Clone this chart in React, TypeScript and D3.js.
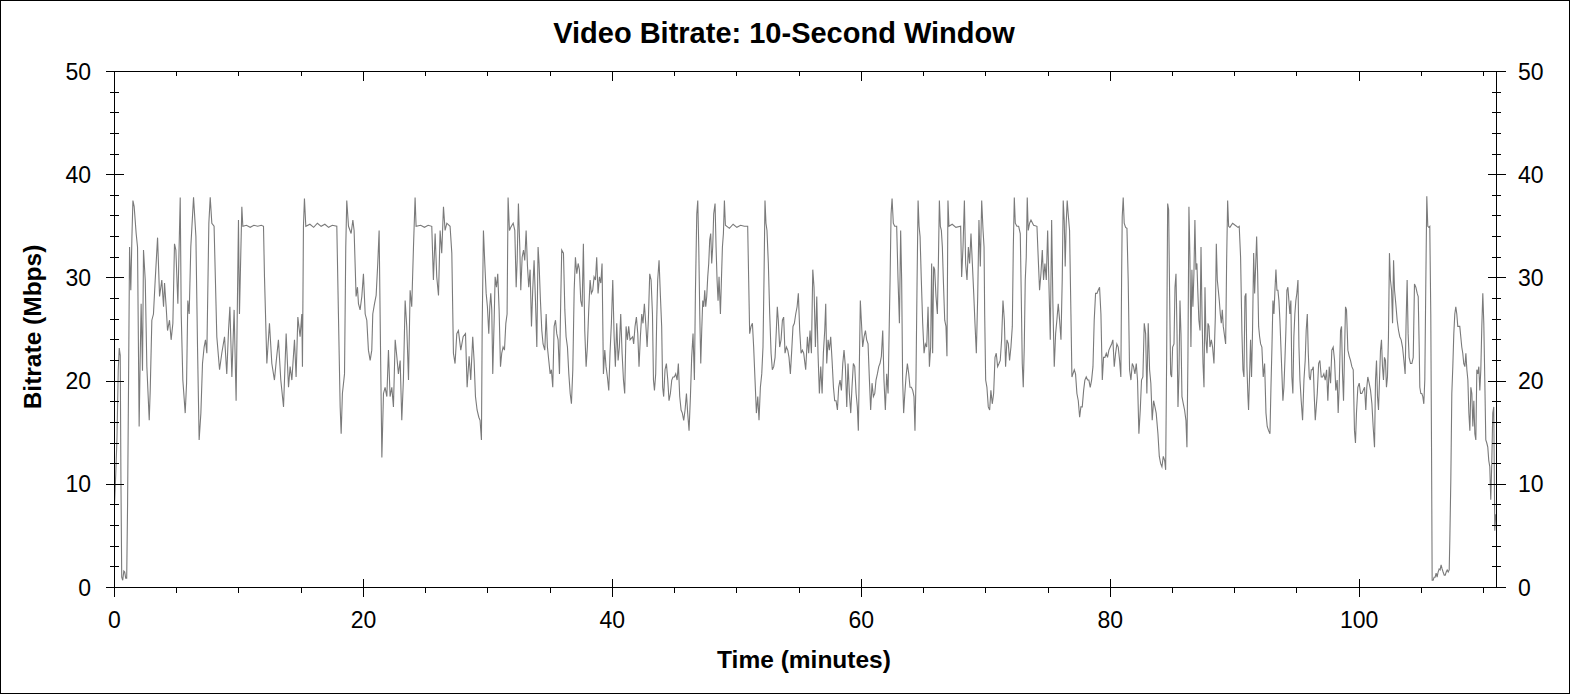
import * as d3 from "d3";

// tick labels
const xTicks = [0, 20, 40, 60, 80, 100];
const yTicks = [0, 10, 20, 30, 40, 50];
const xMax = 111.03;

// [minutes, Mbps], split by time range
const bitrate0to14: [number, number][] = [
  [0, 8.0], [0.1, 11], [0.2, 14.5], [0.3, 21], [0.38, 23.2], [0.46, 22.5], [0.52, 10], [0.58, 1.0],
  [0.66, 0.7], [0.75, 1.6], [0.82, 1.5], [0.9, 0.9], [0.98, 0.9], [1.05, 8], [1.13, 20], [1.21, 33],
  [1.31, 28.8], [1.4, 34], [1.48, 37.5], [1.58, 36.9], [1.74, 34.3], [1.85, 33.0], [1.98, 15.6],
  [2.06, 22], [2.14, 27.5], [2.25, 21.0], [2.33, 32.7], [2.47, 29.8], [2.6, 21.4], [2.79, 16.2],
  [2.87, 19.1], [3.0, 25.9], [3.13, 26.5], [3.27, 29.8], [3.46, 33.9], [3.62, 28.2], [3.8, 29.8],
  [3.94, 27.2], [4.02, 29.5], [4.15, 27.2], [4.26, 24.9], [4.42, 25.9], [4.55, 24.0], [4.69, 25.6],
  [4.82, 33.3], [4.93, 32.7], [5.09, 27.5], [5.28, 37.8], [5.36, 26.5], [5.49, 20.1], [5.68, 16.9],
  [5.79, 19.8], [5.89, 27.8], [6.0, 26.5], [6.13, 33.0], [6.35, 37.8], [6.54, 34.0], [6.67, 23.3],
  [6.8, 14.3], [6.94, 16.9], [7.07, 21.7], [7.2, 23.3], [7.31, 24.0], [7.42, 22.7], [7.58, 35.3],
  [7.69, 37.8], [7.82, 35.3], [8.0, 35.0], [8.22, 24.3], [8.44, 21.1], [8.62, 22.7], [8.84, 24.3],
  [9.02, 20.7], [9.16, 24.9], [9.27, 27.2], [9.43, 20.4], [9.61, 26.9], [9.77, 18.1], [9.96, 35.6],
  [10.04, 26.5], [10.23, 36.9], [10.31, 35.0], [10.6, 35.1], [10.9, 34.9], [11.2, 35.1], [11.5, 35.0],
  [11.8, 35.1], [11.97, 35.0], [12.05, 30.1], [12.24, 21.7], [12.45, 25.6], [12.64, 21.7],
  [12.85, 20.1], [13.0, 22], [13.17, 24.0], [13.36, 20.1], [13.58, 17.5], [13.79, 24.6], [13.98, 19.4],
];

const bitrate14to28: [number, number][] = [
  [14.11, 21.4], [14.25, 20.1], [14.46, 24.0], [14.59, 20.4], [14.73, 26.2], [14.91, 24.3],
  [15.05, 26.5], [15.1, 21.4], [15.18, 35.0], [15.26, 37.7], [15.37, 35.0], [15.7, 35.2], [16.0, 34.9],
  [16.3, 35.3], [16.6, 35.0], [16.9, 35.2], [17.2, 34.9], [17.5, 35.1], [17.86, 35.0], [17.99, 26.5],
  [18.13, 17.5], [18.21, 14.9], [18.31, 18.8], [18.48, 20.7], [18.58, 33.0], [18.66, 37.5],
  [18.8, 35.0], [19.01, 34.3], [19.15, 35.6], [19.25, 34.6], [19.33, 31.4], [19.41, 28.2],
  [19.52, 29.1], [19.6, 27.5], [19.73, 26.9], [19.87, 28.2], [20.0, 30.4], [20.14, 26.5],
  [20.27, 25.9], [20.4, 23.0], [20.54, 22.0], [20.67, 23.0], [20.75, 26.5], [20.89, 27.5],
  [21.02, 28.3], [21.15, 31.4], [21.26, 34.6], [21.37, 23.3], [21.48, 12.6], [21.61, 18.8],
  [21.74, 19.4], [21.88, 18.5], [22.01, 23.0], [22.14, 18.5], [22.28, 19.4], [22.41, 17.5],
  [22.55, 24.0], [22.68, 22.4], [22.81, 20.7], [22.95, 22.0], [23.08, 16.2], [23.21, 20.1],
  [23.35, 27.8], [23.48, 25.3], [23.62, 20.1], [23.75, 28.8], [23.88, 27.2], [24.02, 33.0],
  [24.15, 37.8], [24.23, 35.0], [24.6, 35.1], [24.9, 34.9], [25.2, 35.1], [25.49, 35.0], [25.62, 29.8],
  [25.76, 34.3], [25.89, 30.1], [26.03, 28.3], [26.16, 34.6], [26.29, 32.4], [26.43, 36.9],
  [26.56, 34.6], [26.7, 35.3], [26.96, 35.0], [27.1, 32.4], [27.23, 22.7], [27.36, 21.7],
  [27.5, 24.6], [27.63, 24.9], [27.82, 23.0],
];

const bitrate28to41: [number, number][] = [
  [28.01, 24.3], [28.2, 24.6], [28.33, 19.4], [28.49, 22.4], [28.62, 20.1], [28.78, 24.3], [28.89, 22.0],
  [29.0, 18.5], [29.13, 17.2], [29.27, 16.5], [29.37, 16.2], [29.48, 14.3], [29.54, 25.3], [29.64, 34.6],
  [29.75, 31.4], [29.86, 28.5], [29.96, 27.2], [30.07, 24.6], [30.15, 27.2], [30.23, 28.5], [30.31, 26.9],
  [30.39, 20.7], [30.5, 25.9], [30.58, 30.1], [30.69, 29.1], [30.79, 30.4], [30.9, 26.9], [31.01, 21.4],
  [31.11, 22.7], [31.22, 23.3], [31.33, 23.0], [31.44, 25.6], [31.54, 26.5], [31.62, 37.8], [31.73, 34.6],
  [31.84, 34.9], [32.03, 35.3], [32.16, 34.6], [32.27, 29.1], [32.35, 31.7], [32.45, 37.2], [32.56, 33.0],
  [32.64, 28.8], [32.75, 32.0], [32.86, 32.7], [32.96, 31.7], [33.07, 34.6], [33.18, 31.1], [33.28, 29.1],
  [33.39, 30.8], [33.5, 25.3], [33.6, 28.8], [33.71, 31.7], [33.82, 27.8], [33.93, 23.3], [34.03, 33.0],
  [34.11, 31.4], [34.22, 27.8], [34.33, 24.9], [34.43, 23.6], [34.57, 23.0], [34.68, 26.5], [34.78, 23.3],
  [34.89, 22.0], [35.0, 20.7], [35.1, 21.1], [35.21, 19.4], [35.32, 25.3], [35.43, 25.9], [35.53, 24.6],
  [35.64, 24.0], [35.75, 20.7], [35.85, 27.8], [35.93, 32.7], [36.07, 32.4], [36.18, 26.9], [36.28, 24.3],
  [36.39, 23.3], [36.5, 20.7], [36.61, 18.8], [36.71, 17.8], [36.82, 21.1], [36.93, 28.8], [37.03, 32.0],
  [37.14, 30.4], [37.25, 31.4], [37.35, 30.8], [37.46, 27.8], [37.57, 27.2], [37.67, 33.3], [37.78, 24.9],
  [37.89, 21.4], [37.99, 23.3], [38.1, 26.9], [38.21, 29.8], [38.31, 28.5], [38.42, 28.8], [38.53, 30.1],
  [38.64, 29.8], [38.74, 32.0], [38.85, 28.5], [38.96, 30.1], [39.07, 29.5], [39.17, 31.4], [39.28, 20.7],
  [39.39, 23.0], [39.49, 21.4], [39.6, 20.4], [39.71, 19.1], [39.81, 22.7], [39.92, 25.6], [40.03, 29.8],
  [40.14, 24.3], [40.24, 21.4], [40.35, 25.6], [40.46, 22.0], [40.56, 23.3], [40.67, 26.5], [40.78, 22.7],
  [40.89, 20.1], [40.99, 18.8], [41.1, 25.3], [41.21, 24.0], [41.31, 25.3], [41.42, 24.0],
];

const bitrate41to55: [number, number][] = [
  [41.63, 24.3], [41.71, 23.6], [41.82, 25.3], [41.93, 26.2], [42.04, 24.6], [42.14, 21.4], [42.25, 24.3],
  [42.36, 26.5], [42.46, 25.6], [42.57, 27.5], [42.68, 25.6], [42.79, 23.3], [42.89, 25.9], [43.0, 30.4],
  [43.11, 29.8], [43.22, 26.5], [43.3, 20.1], [43.38, 19.1], [43.48, 20.7], [43.56, 25.9], [43.64, 29.8],
  [43.75, 31.7], [43.86, 28.2], [43.96, 25.3], [44.04, 19.4], [44.12, 18.5], [44.23, 21.1], [44.34, 21.7],
  [44.45, 20.1], [44.55, 18.1], [44.66, 18.8], [44.77, 20.1], [44.87, 20.4], [44.98, 20.4], [45.09, 20.7],
  [45.2, 20.1], [45.3, 21.7], [45.41, 18.5], [45.52, 17.2], [45.62, 16.9], [45.73, 16.2], [45.84, 17.2],
  [45.95, 18.8], [46.05, 16.9], [46.16, 15.2], [46.27, 18.5], [46.37, 22.3], [46.48, 24.6], [46.59, 20.1],
  [46.67, 28.5], [46.78, 36.2], [46.86, 37.5], [46.94, 33.0], [47.02, 26.5], [47.1, 21.7], [47.18, 25.0],
  [47.26, 27.8], [47.34, 27.2], [47.42, 28.8], [47.5, 27.2], [47.58, 28.2], [47.66, 30.1], [47.74, 31.4],
  [47.82, 33.7], [47.9, 34.3], [47.98, 31.4], [48.06, 33.0], [48.14, 36.2], [48.25, 37.2], [48.33, 33.0],
  [48.41, 29.8], [48.49, 27.8], [48.57, 30.1], [48.68, 26.5], [48.76, 29.8], [48.84, 33.0], [48.92, 34.3],
  [49.0, 37.5], [49.08, 35.1], [49.4, 34.8], [49.7, 35.2], [50.0, 34.9], [50.3, 35.1], [50.6, 35.0],
  [50.87, 35.0], [50.95, 29.8], [51.03, 24.6], [51.14, 25.3], [51.25, 25.6], [51.35, 23.3], [51.46, 20.1],
  [51.57, 16.9], [51.68, 18.5], [51.78, 16.2], [51.89, 19.4], [52.0, 20.7], [52.1, 23.3], [52.18, 29.8],
  [52.26, 37.5], [52.34, 35.3], [52.42, 34.6], [52.53, 31.4], [52.64, 26.5], [52.75, 22.7], [52.85, 21.1],
  [52.96, 21.4], [53.07, 22.3], [53.17, 24.9], [53.25, 27.2], [53.33, 25.9], [53.44, 23.3], [53.55, 24.0],
  [53.66, 25.9], [53.76, 26.2], [53.87, 22.7], [53.98, 23.3], [54.09, 23.0], [54.19, 22.3], [54.3, 20.7],
  [54.41, 23.0], [54.51, 25.3], [54.62, 25.6], [54.73, 26.5], [54.84, 27.2], [54.94, 28.5], [55.05, 24.9],
  [55.16, 22.7], [55.26, 23.0], [55.37, 22.7],
];

const bitrate55to70: [number, number][] = [
  [55.53, 21.1], [55.67, 24.3], [55.77, 22.7], [55.88, 24.9], [55.99, 22.7], [56.1, 30.8], [56.2, 29.1],
  [56.31, 23.3], [56.42, 28.2], [56.52, 22.7], [56.63, 18.8], [56.74, 21.4], [56.85, 18.8], [56.95, 22.7],
  [57.06, 24.9], [57.14, 27.5], [57.22, 21.7], [57.33, 24.0], [57.43, 23.0], [57.54, 24.3], [57.65, 22.0],
  [57.76, 19.4], [57.86, 18.1], [57.97, 18.1], [58.08, 17.2], [58.18, 19.4], [58.29, 20.1], [58.4, 19.1],
  [58.51, 21.7], [58.61, 23.0], [58.72, 21.4], [58.83, 17.5], [58.93, 21.7], [59.04, 18.8], [59.15, 16.9],
  [59.25, 19.4], [59.36, 21.7], [59.47, 21.4], [59.58, 18.8], [59.68, 17.5], [59.76, 15.2], [59.84, 21.4],
  [59.92, 27.8], [60.0, 25.9], [60.11, 23.3], [60.22, 24.3], [60.33, 24.9], [60.43, 24.0], [60.54, 23.6],
  [60.65, 20.1], [60.75, 17.2], [60.86, 19.8], [60.97, 18.5], [61.08, 18.8], [61.18, 20.1], [61.29, 20.7],
  [61.4, 21.4], [61.5, 21.7], [61.61, 22.4], [61.72, 24.9], [61.82, 20.1], [61.93, 17.2], [62.04, 20.7],
  [62.15, 18.8], [62.25, 25.9], [62.31, 29.8], [62.39, 36.2], [62.47, 37.7], [62.57, 35.3], [62.68, 35.0],
  [62.84, 35.0], [62.95, 29.8], [63.06, 25.6], [63.16, 34.6], [63.24, 29.8], [63.32, 20.1], [63.4, 16.9],
  [63.48, 18.5], [63.59, 20.4], [63.7, 21.7], [63.81, 20.7], [63.91, 19.4], [64.02, 19.4], [64.13, 19.1],
  [64.23, 18.5], [64.31, 15.2], [64.39, 20.1], [64.48, 29.8], [64.56, 37.5], [64.64, 35.0], [64.72, 34.0],
  [64.82, 29.8], [64.93, 25.6], [65.04, 22.7], [65.14, 23.6], [65.25, 23.3], [65.36, 27.2], [65.47, 21.4],
  [65.57, 23.3], [65.65, 31.4], [65.73, 22.7], [65.81, 31.1], [65.89, 30.8], [66.0, 28.2], [66.11, 26.5],
  [66.19, 31.4], [66.27, 37.5], [66.35, 35.0], [66.43, 34.6], [66.51, 33.0], [66.59, 29.8], [66.7, 25.9],
  [66.8, 25.3], [66.88, 22.4], [66.96, 37.5], [67.04, 35.0], [67.3, 35.2], [67.6, 34.9], [67.98, 35.0],
  [68.06, 30.1], [68.17, 33.0], [68.28, 37.5], [68.38, 31.4], [68.49, 29.8], [68.6, 33.0], [68.7, 31.4],
  [68.81, 34.3], [68.92, 31.4], [69.03, 28.5], [69.13, 25.6], [69.24, 22.7], [69.35, 28.2], [69.45, 35.6],
  [69.56, 31.1], [69.67, 37.5], [69.78, 34.6], [69.86, 33.0],
];

const bitrate70to84: [number, number][] = [
  [69.91, 26.5], [69.99, 20.1], [70.09, 19.4], [70.2, 17.5], [70.31, 17.2], [70.41, 19.1], [70.52, 17.8],
  [70.63, 18.8], [70.74, 22.3], [70.84, 22.7], [70.95, 21.4], [71.06, 21.7], [71.16, 22.0], [71.27, 24.0],
  [71.38, 27.8], [71.49, 25.9], [71.59, 21.4], [71.7, 24.0], [71.81, 23.6], [71.91, 22.0], [72.02, 23.3],
  [72.13, 25.3], [72.21, 33.0], [72.29, 37.8], [72.37, 35.3], [72.5, 35.0], [72.64, 35.0], [72.77, 34.3],
  [72.85, 28.2], [72.93, 21.7], [73.01, 19.4], [73.09, 23.3], [73.17, 29.8], [73.25, 32.0], [73.33, 37.8],
  [73.41, 34.6], [73.52, 35.3], [73.63, 35.6], [73.84, 35.1], [74.11, 35.0], [74.22, 31.7], [74.32, 28.8],
  [74.43, 30.4], [74.54, 32.7], [74.64, 29.8], [74.75, 31.4], [74.86, 29.8], [74.97, 34.6], [75.07, 29.5],
  [75.18, 24.0], [75.29, 35.6], [75.39, 27.5], [75.5, 21.4], [75.61, 24.6], [75.71, 25.9], [75.82, 27.5],
  [75.93, 25.9], [76.04, 24.0], [76.14, 29.8], [76.22, 37.5], [76.3, 35.6], [76.38, 31.1], [76.46, 35.3],
  [76.54, 37.5], [76.62, 36.2], [76.73, 34.6], [76.84, 26.5], [76.92, 20.4], [77.0, 20.7], [77.11, 21.1],
  [77.21, 20.7], [77.32, 18.8], [77.43, 18.1], [77.54, 16.5], [77.64, 17.5], [77.75, 17.5], [77.86, 19.1],
  [77.96, 20.1], [78.07, 20.4], [78.18, 20.1], [78.28, 20.1], [78.39, 19.4], [78.5, 20.1], [78.61, 21.4],
  [78.71, 25.9], [78.82, 28.5], [78.93, 28.5], [79.03, 28.8], [79.14, 29.1], [79.25, 26.5], [79.36, 20.1],
  [79.46, 22.3], [79.57, 22.3], [79.68, 22.7], [79.78, 22.3], [79.89, 23.0], [80.0, 23.3], [80.11, 23.6],
  [80.21, 24.0], [80.32, 21.4], [80.43, 22.7], [80.53, 23.6], [80.64, 23.3], [80.75, 22.0], [80.85, 20.4],
  [80.91, 29.8], [80.96, 35.9], [81.04, 37.8], [81.12, 35.3], [81.23, 34.9], [81.34, 34.8], [81.44, 29.8],
  [81.55, 21.1], [81.66, 20.1], [81.77, 21.7], [81.87, 21.4], [81.98, 20.7], [82.09, 21.7], [82.19, 20.1],
  [82.3, 14.9], [82.41, 17.2], [82.51, 20.1], [82.62, 20.4], [82.73, 25.6], [82.84, 24.6], [82.94, 18.8],
  [83.05, 25.6], [83.16, 21.1], [83.26, 19.8], [83.37, 16.2], [83.48, 18.1], [83.59, 17.5], [83.69, 16.9],
];

const bitrate84to98: [number, number][] = [
  [83.83, 14.9], [83.94, 12.7], [84.05, 12.0], [84.15, 11.7], [84.26, 12.7], [84.37, 12.3], [84.45, 11.4],
  [84.53, 22.3], [84.61, 37.2], [84.69, 36.6], [84.77, 28.2], [84.85, 20.7], [84.93, 20.4], [85.01, 23.3],
  [85.12, 23.6], [85.2, 29.1], [85.28, 30.4], [85.36, 24.9], [85.44, 17.5], [85.52, 20.7], [85.6, 27.8],
  [85.68, 24.6], [85.76, 18.5], [85.87, 17.8], [85.97, 17.2], [86.08, 16.2], [86.16, 13.6], [86.24, 22.3],
  [86.32, 36.9], [86.4, 32.0], [86.48, 23.3], [86.56, 30.8], [86.64, 27.2], [86.72, 30.4], [86.8, 35.6],
  [86.88, 30.8], [86.96, 31.4], [87.04, 28.5], [87.12, 25.9], [87.21, 24.9], [87.29, 33.0], [87.37, 26.5],
  [87.45, 21.7], [87.53, 19.4], [87.61, 29.1], [87.69, 24.0], [87.77, 22.7], [87.85, 25.6], [87.93, 25.3],
  [88.01, 23.3], [88.12, 24.0], [88.22, 23.3], [88.33, 21.7], [88.44, 26.2], [88.52, 33.3], [88.6, 29.8],
  [88.68, 28.8], [88.76, 27.8], [88.84, 26.5], [88.92, 25.6], [89.0, 26.9], [89.08, 25.3], [89.19, 24.3],
  [89.27, 23.6], [89.35, 31.7], [89.43, 37.5], [89.51, 35.0], [89.61, 34.9], [89.83, 35.3], [90.04, 35.1],
  [90.26, 34.9], [90.36, 35.0], [90.47, 32.0], [90.58, 24.6], [90.66, 21.1], [90.74, 20.4], [90.82, 28.2],
  [90.9, 28.5], [90.98, 21.4], [91.06, 18.5], [91.11, 17.2], [91.19, 20.4], [91.27, 24.0], [91.35, 20.4],
  [91.43, 24.9], [91.52, 32.4], [91.6, 28.5], [91.68, 31.1], [91.76, 34.0], [91.84, 30.4], [91.92, 25.3],
  [92.0, 24.3], [92.08, 23.6], [92.18, 23.3], [92.29, 20.4], [92.4, 21.7], [92.51, 16.9], [92.61, 15.6],
  [92.72, 15.2], [92.83, 14.9], [92.91, 19.4], [92.99, 23.3], [93.07, 27.8], [93.15, 26.5], [93.23, 28.8],
  [93.31, 30.8], [93.39, 28.8], [93.47, 28.8], [93.55, 27.8], [93.63, 25.9], [93.71, 23.3], [93.79, 20.7],
  [93.87, 18.1], [93.95, 19.4], [94.03, 22.0], [94.11, 24.9], [94.19, 28.8], [94.27, 29.1], [94.35, 27.8],
  [94.43, 26.5], [94.51, 27.8], [94.59, 20.4], [94.67, 18.8], [94.75, 24.3], [94.83, 26.5], [94.91, 27.8],
  [94.99, 28.5], [95.08, 29.8], [95.16, 23.3], [95.24, 20.1], [95.34, 18.1], [95.45, 16.2], [95.56, 20.1],
  [95.66, 22.0], [95.74, 24.9], [95.83, 26.5], [95.91, 22.7], [95.99, 20.4], [96.07, 20.1], [96.15, 21.1],
  [96.23, 21.1], [96.31, 21.4], [96.39, 18.5], [96.47, 16.2], [96.55, 17.5], [96.63, 18.8], [96.74, 21.7],
  [96.84, 22.0], [96.95, 20.4], [97.06, 20.4], [97.16, 20.7], [97.27, 20.1], [97.38, 21.1], [97.48, 18.1],
  [97.59, 21.4],
];

const bitrate98to111: [number, number][] = [
  [97.7, 19.8], [97.8, 23.0], [97.91, 23.3], [98.02, 22.0], [98.12, 19.1], [98.23, 20.1], [98.31, 16.9],
  [98.39, 19.4], [98.5, 24.9], [98.58, 25.3], [98.66, 20.7], [98.74, 18.1], [98.82, 22.7], [98.9, 27.2],
  [98.98, 26.9], [99.09, 23.0], [99.2, 22.4], [99.3, 22.0], [99.41, 21.4], [99.52, 21.1], [99.62, 15.2],
  [99.7, 14.0], [99.78, 16.9], [99.89, 19.4], [100.0, 19.8], [100.11, 18.8], [100.21, 18.8], [100.32, 19.1],
  [100.43, 19.4], [100.53, 17.2], [100.61, 19.4], [100.69, 20.4], [100.8, 19.8], [100.91, 19.1],
  [101.02, 17.8], [101.12, 15.6], [101.23, 13.6], [101.31, 20.1], [101.39, 22.0], [101.47, 18.5],
  [101.55, 17.2], [101.63, 20.1], [101.71, 23.0], [101.79, 24.0], [101.87, 21.4], [101.95, 20.1],
  [102.03, 22.3], [102.11, 22.0], [102.19, 19.4], [102.27, 20.4], [102.35, 24.3], [102.43, 32.4],
  [102.51, 29.8], [102.6, 28.8], [102.68, 25.6], [102.76, 31.7], [102.84, 28.8], [102.94, 27.5],
  [103.05, 25.9], [103.16, 24.9], [103.26, 24.3], [103.37, 24.0], [103.48, 23.3], [103.59, 22.0],
  [103.69, 20.7], [103.77, 25.9], [103.85, 29.8], [103.93, 24.6], [104.01, 22.3], [104.12, 21.7],
  [104.23, 21.7], [104.34, 22.3], [104.44, 29.4], [104.55, 29.1], [104.66, 28.5], [104.74, 28.2],
  [104.82, 23.3], [104.87, 19.4], [104.95, 18.8], [105.03, 18.8], [105.11, 18.5], [105.19, 17.8],
  [105.27, 20.1], [105.35, 29.4], [105.43, 37.9], [105.51, 35.0], [105.59, 34.9], [105.67, 35.0],
  [105.75, 26.5], [105.81, 13.6], [105.86, 0.7], [105.94, 0.7], [106.02, 1.0], [106.1, 1.0], [106.18, 1.4],
  [106.26, 1.0], [106.34, 1.5], [106.42, 1.8], [106.5, 1.7], [106.58, 2.2], [106.66, 1.8], [106.74, 1.5],
  [106.83, 1.2], [106.91, 1.2], [106.99, 1.5], [107.07, 1.7], [107.15, 1.5], [107.23, 1.7], [107.28, 4.6],
  [107.36, 10.4], [107.44, 18.8], [107.52, 21.4], [107.6, 24.6], [107.68, 26.5], [107.76, 27.2],
  [107.84, 26.5], [107.92, 25.3], [108.0, 25.3], [108.08, 25.3], [108.16, 24.3], [108.24, 23.3],
  [108.32, 22.7], [108.4, 21.7], [108.49, 21.4], [108.57, 22.7], [108.65, 21.1], [108.73, 20.1],
  [108.81, 16.9], [108.89, 15.2], [108.97, 19.4], [109.05, 18.8], [109.13, 15.6], [109.21, 18.1],
  [109.29, 14.9], [109.37, 14.3], [109.45, 21.1], [109.53, 20.7], [109.61, 21.4], [109.69, 19.1],
  [109.77, 21.1], [109.85, 25.3], [109.93, 28.5], [110.01, 25.6], [110.09, 20.1], [110.17, 14.3],
  [110.25, 14.0], [110.33, 13.6], [110.41, 12.3], [110.49, 11.7], [110.57, 8.5], [110.65, 12.0],
  [110.73, 16.9], [110.81, 17.5], [110.89, 5.5], [110.97, 7.1],
];

const series = [
  ...bitrate0to14, ...bitrate14to28, ...bitrate28to41, ...bitrate41to55,
  ...bitrate55to70, ...bitrate70to84, ...bitrate84to98, ...bitrate98to111,
];

const font = "Arial, 'Liberation Sans', sans-serif";

export default function App() {
  const width = 1570;
  const height = 695;
  const plot = { left: 114.5, right: 1496.5, top: 71.5, bottom: 587.5 };

  const x = d3.scaleLinear().domain([0, xMax]).range([plot.left, plot.right]);
  const y = d3.scaleLinear().domain([0, 50]).range([plot.bottom, plot.top]);
  const px = (v: number) => Math.round(x(v) - 0.5) + 0.5;
  const py = (v: number) => Math.round(y(v) - 0.5) + 0.5;

  const xMinor = d3.range(5, xMax, 5).filter((v) => v % 20 !== 0);
  const yMinor = d3.range(2, 50, 2).filter((v) => v % 10 !== 0);

  const line = d3
    .line<[number, number]>()
    .x((d) => x(d[0]))
    .y((d) => y(d[1]));

  return (
    <svg
      width={width}
      height={height}
      style={{ position: "absolute", left: 0, top: 0, background: "#fff" }}
      fontFamily={font}
    >
      <rect x={0.5} y={0.5} width={width - 1} height={height - 2} fill="#fff" stroke="#000" />

      <path d={line(series) ?? ""} fill="none" stroke="#7a7a7a" strokeWidth={1.1} />

      <g stroke="#000" strokeWidth={1} shapeRendering="crispEdges">
        {/* frame */}
        <rect
          x={plot.left}
          y={plot.top}
          width={plot.right - plot.left}
          height={plot.bottom - plot.top}
          fill="none"
        />
        {/* left & right axes */}
        {yTicks.map((v) => (
          <g key={"ym" + v}>
            <line x1={plot.left - 9} x2={plot.left + 9} y1={py(v)} y2={py(v)} />
            <line x1={plot.right - 9} x2={plot.right + 9} y1={py(v)} y2={py(v)} />
          </g>
        ))}
        {yMinor.map((v) => (
          <g key={"yn" + v}>
            <line x1={plot.left - 4.5} x2={plot.left + 4.5} y1={py(v)} y2={py(v)} />
            <line x1={plot.right - 4.5} x2={plot.right + 4.5} y1={py(v)} y2={py(v)} />
          </g>
        ))}
        {/* bottom & top axes */}
        {xTicks.map((v) => (
          <g key={"xm" + v}>
            <line x1={px(v)} x2={px(v)} y1={plot.bottom - 9} y2={plot.bottom + 9} />
            <line x1={px(v)} x2={px(v)} y1={plot.top} y2={plot.top + 9} />
          </g>
        ))}
        {xMinor.map((v) => (
          <g key={"xn" + v}>
            <line x1={px(v)} x2={px(v)} y1={plot.bottom} y2={plot.bottom + 5} />
            <line x1={px(v)} x2={px(v)} y1={plot.top} y2={plot.top + 4} />
          </g>
        ))}
      </g>

      <g fontSize={23} fill="#000">
        {yTicks.map((v) => (
          <text key={"yl" + v} x={91} y={y(v) + 8} textAnchor="end">
            {v}
          </text>
        ))}
        {yTicks.map((v) => (
          <text key={"yr" + v} x={1518} y={y(v) + 8} textAnchor="start">
            {v}
          </text>
        ))}
        {xTicks.map((v) => (
          <text key={"xl" + v} x={x(v)} y={628} textAnchor="middle">
            {v}
          </text>
        ))}
      </g>

      <text x={784} y={43} textAnchor="middle" fontSize={29} fontWeight="bold">
        Video Bitrate: 10-Second Window
      </text>
      <text x={804} y={668} textAnchor="middle" fontSize={24.5} fontWeight="bold">
        Time (minutes)
      </text>
      <text
        transform="translate(41,327) rotate(-90)"
        textAnchor="middle"
        fontSize={24.5}
        fontWeight="bold"
      >
        Bitrate (Mbps)
      </text>
    </svg>
  );
}
